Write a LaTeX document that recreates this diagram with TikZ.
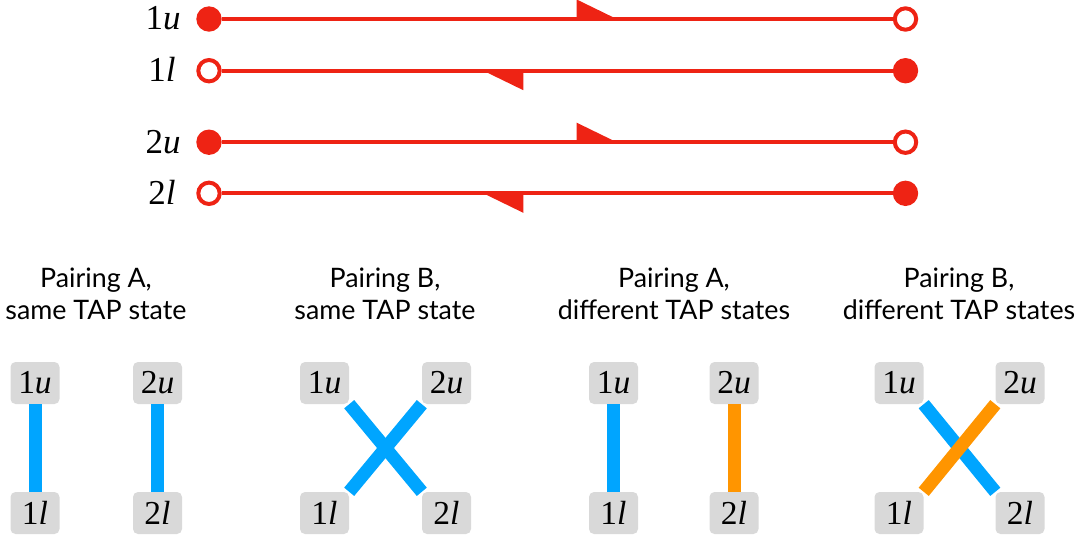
\documentclass[tikz,border=0pt]{standalone}
\usepackage{fontspec}
\setmainfont{Lato}
\newfontfamily\labfont{Liberation Serif}
\usetikzlibrary{decorations.markings}
\definecolor{wred}{HTML}{EE2314}
\definecolor{wblue}{HTML}{00A5FF}
\definecolor{worange}{HTML}{FF9500}
\definecolor{wgray}{HTML}{D9D9D9}
\begin{document}
\begin{tikzpicture}[x=1pt,y=-1pt,
  full/.style={circle,fill=wred,minimum size=25.4pt,inner sep=0pt,outer sep=0pt},
  hollow/.style={circle,draw=wred,line width=4pt,fill=white,minimum size=21.4pt,inner sep=0pt},
  wire/.style={wred,line width=4pt},
  harp/.style={postaction={decorate},decoration={markings,mark=at position #1 with {\fill[wred] (0,0) -- (0,-19.5) -- (40,0) -- cycle;}}},
  rowlab/.style={font=\labfont\fontsize{35}{35}\selectfont,anchor=base,inner sep=0pt},
  tbox/.style={fill=wgray,rounded corners=5pt,minimum width=49pt,minimum height=42pt,inner sep=0pt,font=\labfont\fontsize{33.5}{33.5}\selectfont},
  bar/.style={line width=13pt},
  captxt/.style={font=\fontsize{26.8}{32}\selectfont,align=center,inner sep=0pt}]
\useasboundingbox (0,0) rectangle (1089,539);
% top rows
\node[rowlab] (t1u) at (163,29.5) {1\textit{u}};
\node[rowlab] (t1l) at (162,81.7) {1\textit{l}};
\node[rowlab] (t2u) at (163,153.3) {2\textit{u}};
\node[rowlab] (t2l) at (162,204) {2\textit{l}};
\node[full] (L1u) at (209,19) {};
\node[hollow] (R1u) at (905.5,19) {};
\node[hollow] (L1l) at (209,70.7) {};
\node[full] (R1l) at (905.5,70.7) {};
\node[full] (L2u) at (209,142.2) {};
\node[hollow] (R2u) at (905.5,142.2) {};
\node[hollow] (L2l) at (209,193.3) {};
\node[full] (R2l) at (905.5,193.3) {};
\draw[wire,harp=355pt] (L1u) -- (R1u);
\draw[wire,harp=369.5pt] (R1l) -- (L1l);
\draw[wire,harp=355pt] (L2u) -- (R2u);
\draw[wire,harp=369.5pt] (R2l) -- (L2l);
% captions
\node[captxt] (cA1) at (96,294) {Pairing A,\\same TAP state};
\node[captxt] (cB1) at (385,294) {Pairing B,\\same TAP state};
\node[captxt] (cA2) at (674,294) {Pairing A,\\different TAP states};
\node[captxt] (cB2) at (959,294) {Pairing B,\\different TAP states};
% panel 1
\node[tbox] (a1u) at (35,383) {1\textit{u}};
\node[tbox] (a1l) at (35,513) {1\textit{l}};
\node[tbox] (a2u) at (157.5,383) {2\textit{u}};
\node[tbox] (a2l) at (157.5,513) {2\textit{l}};
\draw[bar,wblue] (a1u) -- (a1l);
\draw[bar,wblue] (a2u) -- (a2l);
% panel 2
\node[tbox] (b1u) at (324.5,383) {1\textit{u}};
\node[tbox] (b1l) at (324.5,513) {1\textit{l}};
\node[tbox] (b2u) at (446.5,383) {2\textit{u}};
\node[tbox] (b2l) at (446.5,513) {2\textit{l}};
\draw[bar,wblue] (b1u.south east) -- (b2l.north west);
\draw[bar,wblue] (b1l.north east) -- (b2u.south west);
% panel 3
\node[tbox] (c1u) at (613.5,383) {1\textit{u}};
\node[tbox] (c1l) at (613.5,513) {1\textit{l}};
\node[tbox] (c2u) at (734,383) {2\textit{u}};
\node[tbox] (c2l) at (734,513) {2\textit{l}};
\draw[bar,wblue] (c1u) -- (c1l);
\draw[bar,worange] (c2u) -- (c2l);
% panel 4
\node[tbox] (d1u) at (899,383) {1\textit{u}};
\node[tbox] (d1l) at (899,513) {1\textit{l}};
\node[tbox] (d2u) at (1020,383) {2\textit{u}};
\node[tbox] (d2l) at (1020,513) {2\textit{l}};
\draw[bar,wblue] (d1u.south east) -- (d2l.north west);
\draw[bar,worange] (d1l.north east) -- (d2u.south west);
\end{tikzpicture}
\end{document}
